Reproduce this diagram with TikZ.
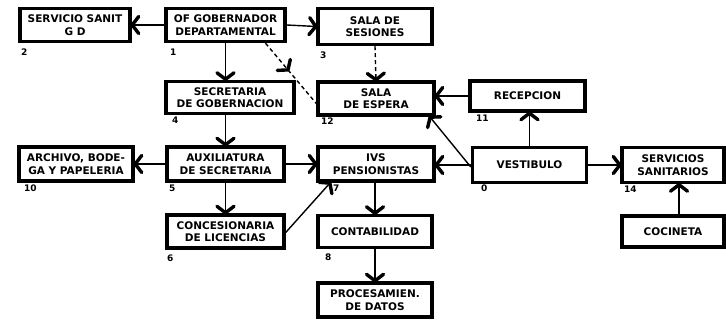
\documentclass[tikz,border=0pt]{standalone}
\usepackage{fontspec}
\setmainfont{DejaVu Sans}
\usetikzlibrary{decorations.markings}
\tikzset{
  barbst/.style={solid,line width=3.4pt,line cap=round,line join=round},
  barbat/.style={postaction={decorate,decoration={markings,
     mark=at position #1 with {\draw[barbst] (-7pt,8.5pt) -- (-0.5pt,0pt) -- (-7pt,-8.5pt);}}}},
  room/.style={draw,line width=3.4pt,minimum height=33pt,inner sep=1pt,align=center,
    font=\bfseries\fontsize{10.5}{12.5}\selectfont,text depth=0pt},
  num/.style={inner sep=0pt,font=\bfseries\fontsize{9}{9}\selectfont,anchor=north west},
  link/.style={line width=1.4pt,barbat=1},
  dlink/.style={line width=1.4pt,dash pattern=on 4pt off 3pt},
}
\begin{document}
\begin{tikzpicture}[x=1pt,y=-1pt]
\useasboundingbox (0,0) rectangle (726,320);
% rooms
\node[room,minimum width=110pt] (san2) at (75,25) {SERVICIO SANIT\\G D};
\node[room,minimum width=119pt] (gob1) at (225.5,25) {OF GOBERNADOR\\DEPARTAMENTAL};
\node[room,minimum width=114pt,minimum height=36pt] (ses3) at (375,26.5) {SALA DE\\SESIONES};
\node[room,minimum width=128pt,minimum height=32pt] (sec4) at (230,97.5) {SECRETARIA\\DE GOBERNACION};
\node[room,minimum width=116pt] (esp12) at (376,98.5) {SALA\\DE ESPERA};
\node[room,minimum width=115pt,minimum height=30pt] (rec11) at (527.5,96) {RECEPCION};
\node[room,minimum width=114pt,minimum height=34pt] (arc10) at (76,164) {ARCHIVO, BODE-\\GA Y PAPELERIA};
\node[room,minimum width=117pt,minimum height=34pt] (aux5) at (225.5,164) {AUXILIATURA\\DE SECRETARIA};
\node[room,minimum width=116pt,minimum height=34pt] (ivs7) at (376,164) {IVS\\PENSIONISTAS};
\node[room,minimum width=114pt,minimum height=35pt] (ves0) at (529.5,165) {VESTIBULO};
\node[room,minimum width=102pt,minimum height=35pt] (ssan14) at (673,165) {SERVICIOS\\SANITARIOS};
\node[room,minimum width=117pt] (con6) at (225.5,231.5) {CONCESIONARIA\\DE LICENCIAS};
\node[room,minimum width=114pt,minimum height=32pt] (cont8) at (375,231.5) {CONTABILIDAD};
\node[room,minimum width=102pt,minimum height=31pt] (coc) at (673,231.5) {COCINETA};
\node[room,minimum width=114pt,minimum height=34pt] (proc) at (375,300) {PROCESAMIEN.\\DE DATOS};
% numbers
\node[num] (n2) at (21,49) {2};
\node[num] (n1) at (170,49) {1};
\node[num] (n3) at (320,52) {3};
\node[num] (n4) at (172,117) {4};
\node[num] (n12) at (321,118) {12};
\node[num] (n11) at (476,115) {11};
\node[num] (n10) at (24,185) {10};
\node[num] (n5) at (169,185) {5};
\node[num] (n7) at (333,185) {7};
\node[num] (n0) at (481,185) {0};
\node[num] (n14) at (624,186) {14};
\node[num] (n6) at (167,255) {6};
\node[num] (n8) at (325,254) {8};
% connectors
\draw[link] (gob1.west) -- (san2.east);
\draw[link] (gob1.east) -- (ses3.west);
\draw[link] (gob1.south) -- (sec4.north -| gob1.south);
\coordinate (gobd) at ([xshift=40pt]gob1.south);
\coordinate (espd) at ([yshift=-5pt]esp12.west);
\draw[dlink,barbat=0.45] (gobd) -- (espd);
\draw[dlink,barbat=1] (ses3.south) -- (esp12.north);
\draw[link] (rec11.west) -- (esp12.east |- rec11.west);
\coordinate (vesnw) at ([yshift=-2pt]ves0.west);
\coordinate (espse) at ([xshift=-6pt]esp12.south east);
\draw[link] (vesnw) -- (espse);
\draw[link] (ves0.north) -- (rec11.south -| ves0.north);
\draw[link] (ves0.west) -- (ivs7.east |- ves0.west);
\draw[link] (ves0.east) -- (ssan14.west);
\draw[link] (coc.north -| 679,0) -- (ssan14.south -| 679,0);
\draw[link] (sec4.south -| aux5.north) -- (aux5.north);
\draw[link] (aux5.west) -- (arc10.east);
\draw[link] (aux5.east) -- (ivs7.west);
\draw[link] (aux5.south) -- (con6.north);
\coordinate (conne) at ([yshift=-1pt]con6.east);
\coordinate (ivssw) at ([xshift=14pt]ivs7.south west);
\draw[link] (conne) -- (ivssw);
\draw[link] (ivs7.south -| cont8.north) -- (cont8.north);
\draw[link] (cont8.south) -- (proc.north);
\end{tikzpicture}
\end{document}
